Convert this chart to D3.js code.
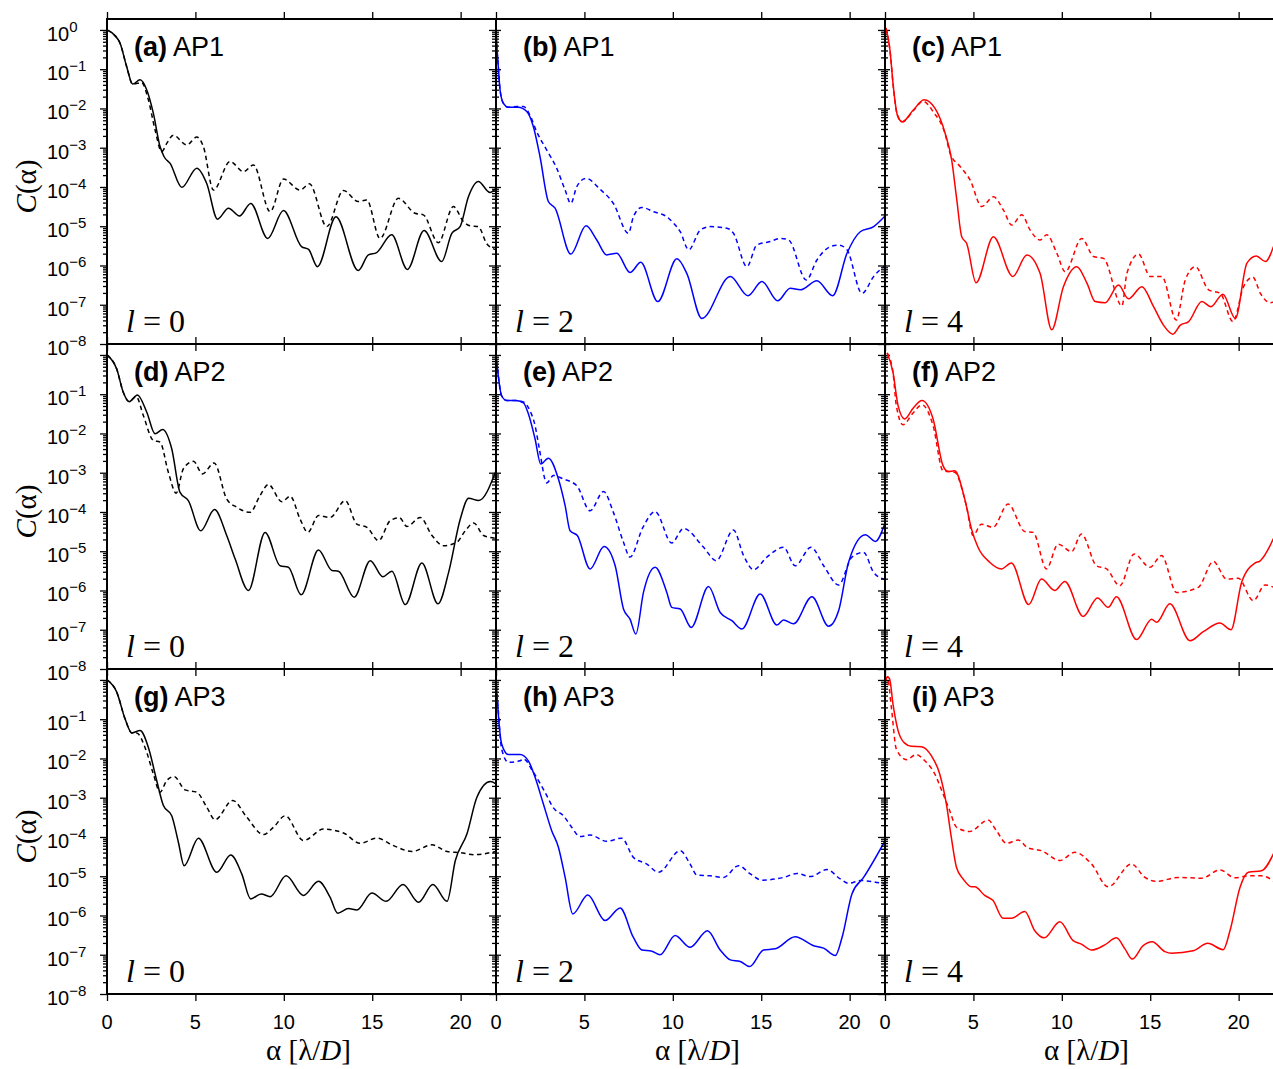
<!DOCTYPE html>
<html>
<head>
<meta charset="utf-8">
<script src="https://cdn.jsdelivr.net/npm/d3@7"></script>
<style>
  body { margin: 0; background: #fff; }
  svg { display: block; background: #fff; }
  .sans { font-family: "Liberation Sans", Arial, Helvetica, sans-serif; }
  .serif { font-family: "Liberation Serif", "Times New Roman", serif; }
</style>
</head>
<body>
<script>
// Curves as [alpha (lambda/D), log10 C(alpha)]
const solidA = [[0,0],[0.4,-0.12],[0.74,-0.34],[1.11,-0.93],[1.45,-1.38],[1.87,-1.27],[2.25,-1.53],[2.62,-2.12],[3.0,-2.97],[3.23,-3.23],[3.57,-3.4],[4.23,-4.01],[5.08,-3.52],[5.64,-3.91],[6.25,-4.82],[6.87,-4.54],[7.49,-4.74],[8.13,-4.42],[9.09,-5.31],[9.98,-4.6],[11.0,-5.52],[11.4,-5.59],[11.9,-6.03],[12.95,-4.76],[14.21,-6.13],[14.78,-5.73],[15.25,-5.67],[16.1,-5.22],[16.99,-6.1],[17.93,-5.11],[18.93,-5.9],[19.5,-5.18],[19.97,-5.01],[20.44,-4.25],[21.0,-3.86],[21.66,-4.14],[22,-4.03]];
const dashA = [[0,0],[0.4,-0.12],[0.74,-0.34],[1.11,-0.93],[1.45,-1.38],[1.96,-1.34],[2.34,-1.78],[2.72,-2.55],[3.09,-3.1],[3.38,-2.89],[3.75,-2.68],[4.51,-2.93],[5.08,-2.73],[5.45,-2.97],[6.02,-4.08],[6.96,-3.35],[7.72,-3.61],[8.28,-3.44],[9.23,-4.63],[9.98,-3.8],[10.92,-4.08],[11.45,-3.92],[12.43,-5.01],[13.37,-4.09],[14.21,-4.37],[14.69,-4.33],[15.44,-5.31],[16.48,-4.29],[17.42,-4.67],[17.89,-4.71],[18.74,-5.42],[19.59,-4.5],[20.16,-4.88],[20.54,-4.99],[21.0,-5.01],[21.47,-5.44],[22,-5.6]];

const solidB = [[0,0.05],[0.06,-0.5],[0.13,-0.93],[0.23,-1.53],[0.42,-1.87],[0.7,-1.97],[1.26,-1.97],[1.74,-2.08],[2.11,-2.46],[2.49,-3.23],[2.96,-4.37],[3.34,-4.54],[4.23,-5.71],[5.09,-4.99],[5.7,-5.35],[6.26,-5.73],[6.83,-5.69],[7.58,-6.18],[8.19,-5.92],[9.15,-6.92],[10.23,-5.83],[10.79,-6.2],[11.64,-7.35],[13.25,-6.28],[14.25,-6.77],[15.04,-6.41],[15.93,-6.9],[16.64,-6.58],[17.21,-6.62],[18.15,-6.39],[19.04,-6.77],[19.85,-5.69],[20.6,-5.14],[21.36,-5.01],[22,-4.74]];
const dashB = [[0,0.05],[0.06,-0.5],[0.13,-0.93],[0.23,-1.53],[0.42,-1.87],[0.7,-1.97],[1.2,-1.95],[1.55,-1.95],[1.92,-2.17],[2.3,-2.59],[2.87,-3.06],[3.43,-3.52],[3.91,-4.08],[4.23,-4.42],[4.57,-3.99],[5.09,-3.78],[5.89,-4.06],[6.64,-4.42],[7.49,-5.18],[7.77,-4.76],[8.25,-4.52],[8.91,-4.63],[9.66,-4.76],[10.0,-4.9],[10.42,-5.14],[10.9,-5.6],[11.55,-5.1],[12.11,-5.01],[13.06,-5.05],[13.43,-5.18],[14.19,-6.03],[14.75,-5.48],[15.5,-5.39],[16.08,-5.31],[16.55,-5.35],[17.55,-6.37],[18.15,-5.86],[18.91,-5.52],[19.38,-5.48],[19.85,-5.6],[20.7,-6.71],[21.36,-6.28],[22,-6.0]];

const solidC = [[0.05,0.05],[0.28,-0.51],[0.47,-1.44],[0.7,-2.17],[0.98,-2.34],[1.6,-2.04],[2.21,-1.78],[2.83,-2.0],[3.4,-2.63],[3.77,-3.31],[4.06,-4.33],[4.34,-5.27],[4.62,-5.44],[5.15,-6.44],[6.13,-5.27],[7.23,-6.28],[8.02,-5.73],[8.77,-6.2],[9.43,-7.64],[10.09,-6.54],[10.85,-6.03],[11.42,-6.45],[11.89,-6.92],[12.45,-6.95],[13.21,-6.5],[13.77,-6.85],[14.53,-6.54],[15.19,-7.05],[15.75,-7.52],[16.28,-7.75],[16.7,-7.52],[17.17,-7.43],[17.92,-6.92],[18.43,-7.05],[19.11,-6.73],[19.81,-7.35],[20.47,-5.94],[21.0,-5.76],[21.51,-5.9],[22,-5.48]];
const dashC = [[0.05,0.05],[0.28,-0.51],[0.47,-1.44],[0.7,-2.17],[0.98,-2.34],[1.6,-2.06],[2.15,-1.82],[2.75,-2.1],[3.4,-2.65],[3.68,-3.14],[4.25,-3.48],[4.81,-3.82],[5.47,-4.5],[6.13,-4.25],[6.7,-4.59],[7.17,-4.97],[7.74,-4.71],[8.21,-5.1],[8.77,-5.35],[9.15,-5.22],[9.72,-5.69],[10.19,-6.16],[11.13,-5.31],[11.79,-5.77],[12.36,-5.82],[13.4,-7.03],[13.68,-6.2],[14.34,-5.71],[15.0,-6.28],[15.66,-6.28],[16.47,-7.39],[16.98,-6.37],[17.55,-6.03],[18.3,-6.62],[18.96,-6.71],[19.68,-7.43],[20.28,-6.54],[20.81,-6.3],[21.23,-6.71],[21.79,-6.95],[22,-6.93]];

const solidD = [[0,0],[0.55,-0.36],[0.92,-0.95],[1.26,-1.19],[1.72,-1.02],[2.25,-1.46],[2.72,-2.01],[3.15,-1.9],[3.66,-2.39],[4.13,-3.5],[4.6,-3.71],[5.3,-4.48],[6.08,-3.94],[6.77,-4.6],[7.25,-5.2],[8.0,-6.0],[8.94,-4.52],[9.79,-5.37],[10.26,-5.41],[10.98,-6.11],[11.96,-4.97],[12.72,-5.49],[13.09,-5.51],[13.98,-6.17],[14.89,-5.24],[15.6,-5.65],[16.11,-5.51],[16.87,-6.36],[17.81,-5.3],[18.72,-6.34],[19.32,-5.54],[19.98,-4.18],[20.45,-3.65],[21.02,-3.71],[22,-2.95]];
const dashD = [[0,0],[0.55,-0.36],[0.92,-0.95],[1.26,-1.19],[1.65,-1.06],[2.06,-1.55],[2.62,-2.18],[3.0,-2.22],[3.47,-2.99],[3.91,-3.52],[4.32,-2.9],[4.89,-2.71],[5.4,-3.03],[6.06,-2.75],[6.77,-3.67],[7.34,-3.88],[8.09,-4.01],[8.66,-3.58],[9.13,-3.3],[9.89,-3.74],[10.36,-3.6],[10.92,-4.18],[11.36,-4.52],[11.96,-4.09],[12.62,-4.14],[13.47,-3.71],[14.13,-4.31],[14.7,-4.39],[15.36,-4.73],[16.02,-4.22],[16.55,-4.15],[16.96,-4.37],[17.72,-4.14],[18.38,-4.6],[19.04,-4.86],[19.79,-4.77],[20.26,-4.48],[20.74,-4.28],[21.3,-4.6],[22,-4.67]];

const solidE = [[0,0.05],[0.13,-0.53],[0.32,-1.04],[0.6,-1.16],[1.08,-1.16],[1.55,-1.22],[1.83,-1.5],[2.21,-2.14],[2.53,-2.78],[2.96,-2.63],[3.53,-3.16],[3.91,-3.84],[4.19,-4.48],[4.6,-4.6],[5.32,-5.45],[6.11,-4.88],[6.74,-5.37],[7.21,-6.47],[7.58,-6.73],[7.91,-7.11],[8.34,-6.05],[9.0,-5.41],[9.66,-6.05],[9.94,-6.43],[10.42,-6.47],[11.04,-6.94],[12.02,-5.9],[12.68,-6.56],[13.34,-6.77],[13.91,-6.98],[14.94,-6.09],[15.89,-6.88],[16.26,-6.75],[16.83,-6.85],[17.87,-6.16],[18.81,-6.91],[19.38,-6.51],[19.94,-5.28],[20.89,-4.58],[21.45,-4.75],[22,-4.28]];
const dashE = [[0,0.05],[0.13,-0.53],[0.32,-1.04],[0.6,-1.16],[1.08,-1.16],[1.55,-1.2],[1.92,-1.42],[2.21,-1.8],[2.45,-2.39],[2.87,-3.26],[3.25,-3.07],[3.81,-3.16],[4.57,-3.33],[5.32,-3.97],[6.08,-3.48],[6.64,-4.01],[7.21,-4.77],[7.58,-5.15],[8.3,-4.4],[9.0,-3.99],[9.94,-4.79],[10.6,-4.42],[11.74,-4.9],[12.45,-5.24],[13.43,-4.46],[14.0,-5.11],[14.57,-5.47],[15.32,-5.15],[16.26,-4.9],[16.92,-5.37],[17.81,-4.9],[18.53,-5.37],[19.38,-5.86],[20.13,-5.15],[20.79,-5.03],[21.36,-5.54],[22,-5.72]];

const solidF = [[0.12,0.05],[0.45,-0.44],[0.74,-1.29],[1.11,-1.63],[1.6,-1.35],[2.09,-1.16],[2.72,-1.63],[3.28,-2.82],[3.57,-2.97],[3.94,-2.95],[4.51,-3.67],[4.89,-4.43],[5.26,-4.9],[5.92,-5.28],[6.58,-5.45],[7.15,-5.3],[8.13,-6.36],[8.85,-5.71],[9.6,-6.0],[10.17,-5.77],[11.21,-6.66],[12.02,-6.19],[12.62,-6.43],[13.09,-6.16],[14.23,-7.25],[15.08,-6.73],[15.36,-6.81],[16.11,-6.34],[17.25,-7.28],[18.0,-7.05],[18.94,-6.83],[19.57,-7.0],[20.17,-5.79],[20.92,-5.3],[21.2,-5.25],[22,-4.65]];
const dashF = [[0.12,0.05],[0.45,-0.44],[0.64,-1.29],[1.02,-1.78],[1.55,-1.5],[2.09,-1.27],[2.72,-1.8],[3.28,-2.95],[3.94,-2.99],[4.6,-3.84],[4.98,-4.6],[5.45,-4.31],[6.11,-4.39],[6.96,-3.8],[7.91,-4.5],[8.38,-4.52],[9.13,-5.45],[9.79,-4.82],[10.55,-5.01],[11.11,-4.56],[11.96,-5.37],[12.53,-5.45],[13.28,-5.88],[14.09,-5.07],[14.98,-5.41],[15.64,-5.11],[16.49,-6.05],[17.72,-5.92],[18.57,-5.26],[19.32,-5.71],[19.98,-5.69],[20.83,-6.26],[21.49,-5.86],[22,-5.92]];

const solidG = [[0,0],[0.55,-0.31],[1.02,-0.99],[1.4,-1.35],[1.87,-1.29],[2.34,-1.72],[2.81,-2.56],[3.19,-3.2],[3.66,-3.46],[4.04,-4.14],[4.36,-4.73],[5.17,-4.03],[6.21,-4.9],[7.0,-4.46],[7.62,-4.94],[8.13,-5.58],[8.72,-5.45],[9.23,-5.52],[10.13,-4.99],[11.11,-5.49],[11.96,-5.13],[12.62,-5.54],[13.04,-5.94],[13.66,-5.82],[14.13,-5.86],[14.98,-5.43],[15.79,-5.64],[16.74,-5.21],[17.62,-5.66],[18.43,-5.21],[19.23,-5.64],[19.7,-4.6],[20.36,-3.92],[20.92,-2.99],[21.68,-2.59],[22,-2.65]];
const dashG = [[0,0],[0.55,-0.31],[1.02,-0.99],[1.4,-1.35],[1.68,-1.35],[2.15,-1.72],[2.62,-2.39],[3.0,-2.86],[3.38,-2.56],[3.79,-2.46],[4.42,-2.8],[5.08,-2.86],[5.64,-3.24],[6.11,-3.56],[7.11,-3.07],[7.91,-3.5],[8.85,-3.94],[9.42,-3.75],[10.08,-3.46],[11.11,-4.09],[12.25,-3.8],[13.38,-3.9],[14.32,-4.16],[15.26,-4.03],[16.21,-4.22],[17.25,-4.37],[18.38,-4.2],[19.23,-4.37],[19.98,-4.4],[20.74,-4.45],[22,-4.37]];

const solidH = [[0,0.05],[0.13,-0.87],[0.32,-1.63],[0.7,-1.9],[1.36,-1.9],[1.83,-2.06],[2.21,-2.48],[2.68,-3.16],[3.15,-3.84],[3.53,-4.26],[3.91,-5.03],[4.34,-5.96],[5.19,-5.48],[6.17,-6.13],[7.02,-5.81],[7.77,-6.56],[8.25,-6.88],[8.81,-6.91],[9.28,-7.0],[10.13,-6.51],[10.98,-6.81],[11.96,-6.39],[12.68,-6.88],[13.25,-7.13],[13.81,-7.17],[14.34,-7.3],[15.13,-6.88],[15.79,-6.85],[16.92,-6.54],[17.96,-6.77],[18.53,-6.83],[19.19,-7.02],[19.57,-6.56],[20.13,-5.45],[20.79,-5.03],[22,-4.1]];
const dashH = [[0,0.05],[0.13,-0.78],[0.32,-1.76],[0.7,-2.1],[1.36,-2.06],[1.55,-2.01],[2.11,-2.35],[2.77,-2.86],[3.25,-3.26],[3.81,-3.46],[4.28,-3.75],[4.75,-3.99],[5.32,-3.95],[6.26,-4.11],[7.11,-4.03],[7.77,-4.52],[8.53,-4.69],[9.19,-4.9],[10.42,-4.35],[10.98,-4.69],[11.36,-4.97],[12.11,-4.99],[12.87,-5.03],[13.72,-4.73],[14.38,-4.94],[15.04,-5.1],[16.26,-5.03],[17.02,-4.93],[17.77,-5.01],[18.72,-4.83],[19.47,-5.07],[19.94,-5.18],[20.6,-5.11],[22,-5.2]];

const solidI = [[0.05,0.0],[0.13,0.08],[0.26,0.03],[0.45,-0.61],[0.74,-1.29],[1.11,-1.61],[1.49,-1.69],[2.06,-1.7],[2.62,-1.93],[3.09,-2.39],[3.47,-3.16],[3.75,-4.01],[4.04,-4.77],[4.42,-5.07],[4.89,-5.27],[5.08,-5.27],[5.64,-5.49],[6.11,-5.62],[6.68,-6.07],[7.15,-6.07],[7.91,-5.9],[8.47,-6.39],[9.0,-6.57],[9.89,-6.16],[10.64,-6.64],[11.11,-6.73],[11.68,-6.88],[12.43,-6.75],[13.09,-6.57],[13.57,-6.85],[13.98,-7.11],[14.6,-6.77],[15.11,-6.67],[15.83,-6.92],[16.21,-6.96],[17.43,-6.9],[18.25,-6.71],[19.13,-6.87],[19.51,-6.39],[20.08,-5.28],[20.55,-4.9],[21.3,-4.86],[22,-4.4]];
const dashI = [[0.05,0.0],[0.13,0.08],[0.36,-0.7],[0.64,-1.76],[1.21,-2.03],[1.77,-1.9],[2.25,-2.06],[2.81,-2.39],[3.28,-2.9],[3.66,-3.33],[4.04,-3.75],[4.79,-3.86],[5.83,-3.57],[6.3,-3.84],[6.87,-4.16],[7.53,-4.08],[8.09,-4.28],[8.85,-4.35],[9.89,-4.6],[10.74,-4.39],[11.68,-4.69],[12.62,-5.27],[13.94,-4.69],[14.7,-5.03],[15.36,-5.13],[16.58,-5.03],[17.91,-5.05],[18.94,-4.84],[19.79,-5.04],[20.55,-4.99],[21.3,-4.99],[22,-5.13]];

// Panel categories
const panelLetters = ["a", "b", "c", "d", "e", "f", "g", "h", "i"];
const apodizers = ["AP1", "AP1", "AP1", "AP2", "AP2", "AP2", "AP3", "AP3", "AP3"];
const chargeL = [0, 2, 4];
const alphaTicks = [0, 5, 10, 15, 20];
const decadeExps = [0, -1, -2, -3, -4, -5, -6, -7, -8];

const solidCurves = [solidA, solidB, solidC, solidD, solidE, solidF, solidG, solidH, solidI];
const dashCurves = [dashA, dashB, dashC, dashD, dashE, dashF, dashG, dashH, dashI];
const colColors = ["#000000", "#0000ff", "#ff0000"];

// Layout
const width = 1273, height = 1069;
const left0 = 107, top0 = 19, panelW = 389, panelH = 325;

const svg = d3.select("body").append("svg")
    .attr("width", width)
    .attr("height", height);

const x = d3.scaleLinear().domain([0, 22]).range([0, panelW]);
const y = d3.scaleLog().domain([1e-8, 1.9]).range([panelH, 0]);

const majorTicks = decadeExps.map(e => Math.pow(10, e));
const minorTicks = [];
decadeExps.slice(1).forEach(e => {
    for (let m = 2; m <= 9; m++) minorTicks.push(m * Math.pow(10, e));
});

const line = d3.line()
    .x(d => x(d[0]))
    .y(d => y(Math.pow(10, d[1])))
    .curve(d3.curveMonotoneX);

svg.append("defs").append("clipPath")
    .attr("id", "clip")
    .append("rect")
    .attr("width", panelW)
    .attr("height", panelH);

function cleanAxis(sel) {
    sel.select(".domain").remove();
    sel.selectAll(".tick line").attr("stroke", "#000").attr("stroke-width", 1.3);
    sel.selectAll(".tick text").remove();
}

panelLetters.forEach((letter, k) => {
    const row = Math.floor(k / 3), col = k % 3;
    const g = svg.append("g")
        .attr("transform", `translate(${left0 + col * panelW},${top0 + row * panelH})`);

    // ticks
    g.append("g").call(d3.axisTop(x).tickValues(alphaTicks).tickSize(7)).call(cleanAxis);
    g.append("g").attr("transform", `translate(0,${panelH})`)
        .call(d3.axisBottom(x).tickValues(alphaTicks).tickSize(7)).call(cleanAxis);
    g.append("g").call(d3.axisLeft(y).tickValues(majorTicks).tickSize(7)).call(cleanAxis);
    g.append("g").call(d3.axisLeft(y).tickValues(minorTicks).tickSize(4)).call(cleanAxis);
    g.append("g").attr("transform", `translate(${panelW},0)`)
        .call(d3.axisRight(y).tickValues(majorTicks).tickSize(5)).call(cleanAxis);
    g.append("g").attr("transform", `translate(${panelW},0)`)
        .call(d3.axisRight(y).tickValues(minorTicks).tickSize(3)).call(cleanAxis);

    // curves
    const curves = g.append("g").attr("clip-path", "url(#clip)");
    curves.append("path")
        .datum(dashCurves[k])
        .attr("fill", "none")
        .attr("stroke", colColors[col])
        .attr("stroke-width", 1.5)
        .attr("stroke-dasharray", "4.5,3.5")
        .attr("d", line);
    curves.append("path")
        .datum(solidCurves[k])
        .attr("fill", "none")
        .attr("stroke", colColors[col])
        .attr("stroke-width", 1.5)
        .attr("d", line);

    // frame
    g.append("rect")
        .attr("width", panelW)
        .attr("height", panelH)
        .attr("fill", "none")
        .attr("stroke", "#000")
        .attr("stroke-width", 2);

    // panel label
    const lab = g.append("text")
        .attr("class", "sans")
        .attr("x", 27)
        .attr("y", 37)
        .attr("font-size", 27);
    lab.append("tspan").attr("font-weight", "bold").text(`(${letter})`);
    lab.append("tspan").text(" " + apodizers[k]);

    // l value
    const lt = g.append("text")
        .attr("class", "serif")
        .attr("x", 19)
        .attr("y", panelH - 12)
        .attr("font-size", 32);
    lt.append("tspan").attr("font-style", "italic").text("l");
    lt.append("tspan").text(" = " + chargeL[col]);

    // y tick labels for the first column
    if (col === 0) {
        decadeExps.filter(e => row === 0 || e !== 0).forEach(e => {
            const t = g.append("text")
                .attr("class", "sans")
                .attr("x", 47 - left0)
                .attr("y", y(Math.pow(10, e)) + 11)
                .attr("font-size", 20);
            t.append("tspan").text("10");
            t.append("tspan").attr("dy", -9).attr("font-size", 15)
                .text(e === 0 ? "0" : "\u2212" + (-e));
        });
        const yl = svg.append("text")
            .attr("class", "serif")
            .attr("font-size", 29)
            .attr("text-anchor", "middle")
            .attr("transform", `translate(36,${top0 + row * panelH + panelH / 2 + 5}) rotate(-90)`);
        yl.append("tspan").attr("font-style", "italic").text("C");
        yl.append("tspan").text("(\u03b1)");
    }

    // x tick labels & axis title on bottom row
    if (row === 2) {
        g.selectAll("text.xt")
            .data(alphaTicks)
            .join("text")
            .attr("class", "xt sans")
            .attr("x", d => x(d))
            .attr("y", panelH + 35)
            .attr("text-anchor", "middle")
            .attr("font-size", 20)
            .text(d => d);
        const xl = g.append("text")
            .attr("class", "serif")
            .attr("x", panelW / 2 + 7)
            .attr("y", panelH + 66)
            .attr("text-anchor", "middle")
            .attr("font-size", 29);
        xl.append("tspan").text("\u03b1 [\u03bb/");
        xl.append("tspan").attr("font-style", "italic").text("D");
        xl.append("tspan").text("]");
    }
});
</script>
</body>
</html>
